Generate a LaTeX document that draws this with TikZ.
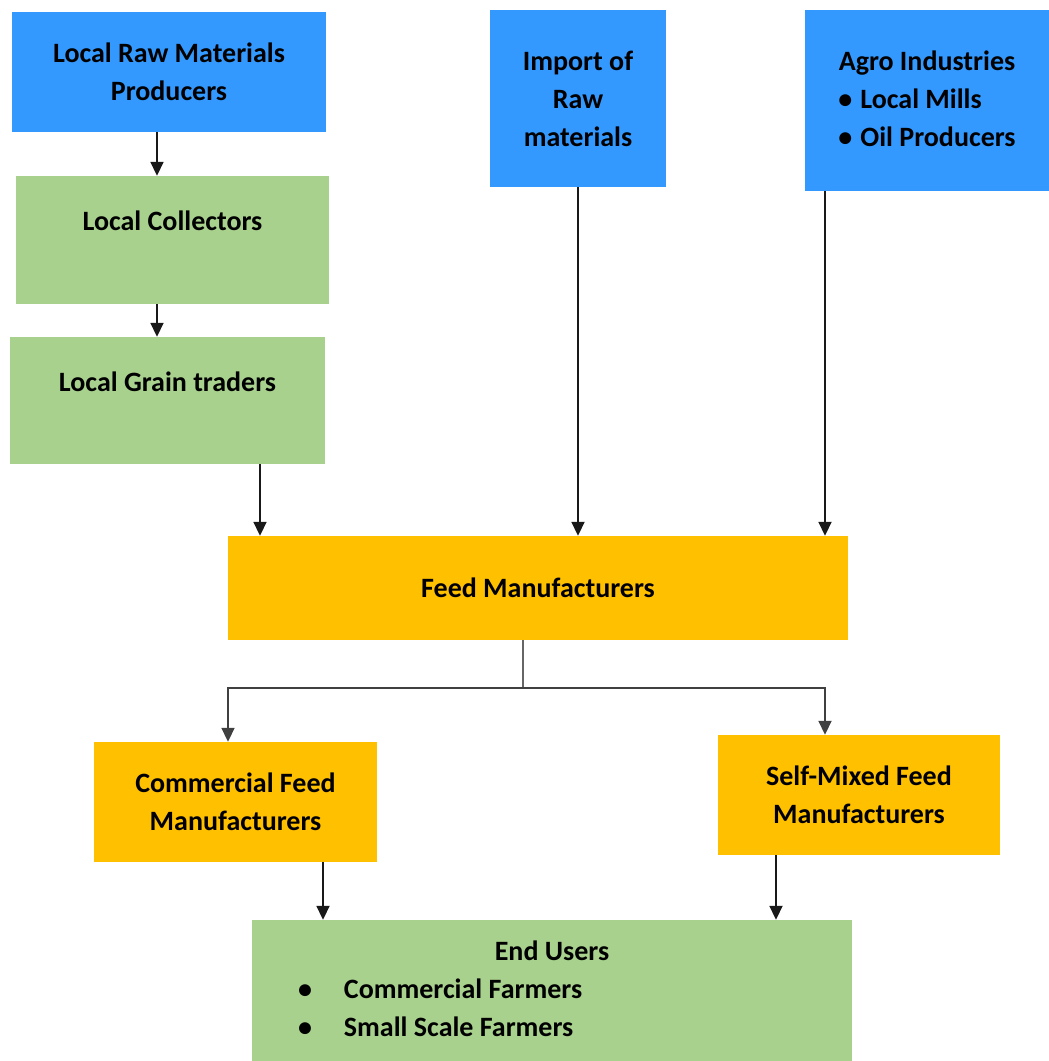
\documentclass[tikz,border=0pt]{standalone}
\usepackage{fontspec}
\setmainfont{Carlito}
\usetikzlibrary{arrows.meta}
\definecolor{srcblue}{HTML}{3399FF}
\definecolor{midgreen}{HTML}{A9D18E}
\definecolor{feedorange}{HTML}{FFC000}
\newcommand{\bul}[1]{\makebox[#1][l]{\textbullet}}
\tikzset{
	box/.style={rectangle, inner sep=0pt, align=center, font=\fontsize{28}{38}\selectfont\bfseries},
	blueb/.style={box, fill=srcblue},
	greenb/.style={box, fill=midgreen},
	orangeb/.style={box, fill=feedorange},
	highText/.style={text height=20pt, text depth=39pt},
	arr/.style={-{Triangle[width=13pt,length=14pt]}, line width=1.8pt, black!90},
	link/.style={line width=1.8pt, black!60}
}

\begin{document}
\begin{tikzpicture}[x=1pt, y=-1pt]
	\useasboundingbox (0,0) rectangle (1049,1061);
	% raw material sources
	\node [blueb, minimum width=314pt, minimum height=120pt] (lrmp) at (169,72) {Local Raw Materials\\Producers};
	\node [greenb, highText, minimum width=313pt, minimum height=128pt] (coll) at (172.5,240) {Local Collectors};
	\node [greenb, highText, minimum width=315pt, minimum height=127pt] (grain) at (167.5,400.5) {Local Grain traders};
	\node [blueb, minimum width=176pt, minimum height=177pt] (import) at (578,98.5) {Import of\\Raw\\materials};
	\node [blueb, minimum width=244pt, minimum height=181pt] (agro) at (927,100.5) {\begin{tabular}{@{}l@{}}\multicolumn{1}{@{}c@{}}{Agro Industries}\\ \bul{22pt}Local Mills\\ \bul{22pt}Oil Producers\end{tabular}};
	% manufacturers
	\node [orangeb, minimum width=620pt, minimum height=104pt] (feed) at (538,588) {Feed Manufacturers};
	\node [orangeb, minimum width=283pt, minimum height=120pt] (comm) at (235.5,802) {Commercial Feed\\Manufacturers};
	\node [orangeb, minimum width=282pt, minimum height=120pt] (self) at (859,795) {Self-Mixed Feed\\Manufacturers};
	% users
	\node [greenb, minimum width=600pt, minimum height=141pt] (endu) at (552,990.5) {\begin{tabular}{@{}p{508pt}@{}}\multicolumn{1}{@{}c@{}}{End Users}\\ \bul{46pt}Commercial Farmers\\ \bul{46pt}Small Scale Farmers\end{tabular}};
	\coordinate (fork) at (523,688);

	\draw [arr] ([xshift=-12pt]lrmp.south) -- ([xshift=-15.5pt]coll.north);
	\draw [arr] ([xshift=-15.5pt]coll.south) -- ([xshift=-10.5pt]grain.north);
	\draw [arr] ([xshift=92.5pt]grain.south) -- ([xshift=-278pt]feed.north);
	\draw [arr] (import.south) -- ([xshift=40pt]feed.north);
	\draw [arr] ([xshift=-102pt]agro.south) -- ([xshift=287pt]feed.north);
	\draw [link] ([xshift=-15pt]feed.south) -- (fork);
	\draw [arr, black!75] (fork) -| ([xshift=-7.5pt]comm.north);
	\draw [arr, black!75] (fork) -| ([xshift=-34pt]self.north);
	\draw [arr] ([xshift=87.5pt]comm.south) -- ([xshift=-229pt]endu.north);
	\draw [arr] ([xshift=-83pt]self.south) -- ([xshift=224pt]endu.north);
\end{tikzpicture}
\end{document}
